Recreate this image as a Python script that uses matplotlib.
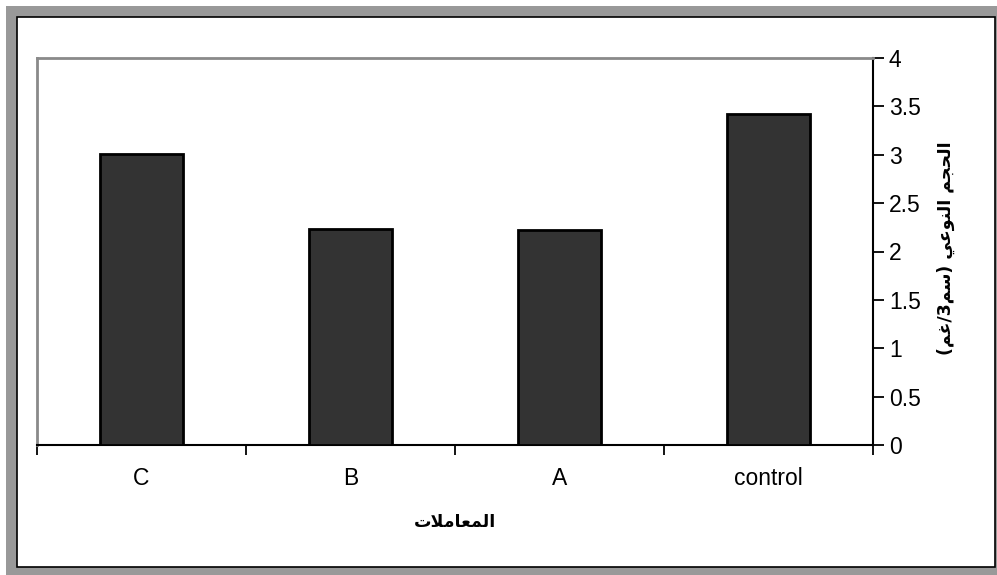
import matplotlib.pyplot as plt
from matplotlib.patches import Rectangle

# treatments, listed left to right as they appear on the axis
categories = ["C", "B", "A", "control"]
values = [3.01, 2.23, 2.22, 3.42]

y_ticks = [0, 0.5, 1, 1.5, 2, 2.5, 3, 3.5, 4]
y_tick_labels = ["0", "0.5", "1", "1.5", "2", "2.5", "3", "3.5", "4"]

# Arabic titles, written with presentation forms in display order
x_title = "\uFE95\uFEFC\uFEE3\uFE8E\uFECC\uFEE4\uFEDF\uFE8D"  # المعاملات
y_title = ("(\uFEE2\uFECF/3\uFEE2\uFEB3) "
           "\uFEF2\uFECB\uFEEE\uFEE8\uFEDF\uFE8D "
           "\uFEE2\uFEA0\uFEA4\uFEDF\uFE8D")  # الحجم النوعي (سم3/غم)

W, H = 997, 575
fig = plt.figure(figsize=(W / 100, H / 100), dpi=100)
fig.patch.set_facecolor("white")

# gray outer frame with a thin dark inner edge
fig.patches.append(Rectangle((6 / W, -0.1), 1.2, 1.1 - 6 / H,
                             transform=fig.transFigure, facecolor="#999999",
                             edgecolor="none", zorder=-3))
fig.patches.append(Rectangle((16.5 / W, (H - 566.5) / H),
                             (994.5 - 16.5) / W, (566.5 - 16.5) / H,
                             transform=fig.transFigure, facecolor="white",
                             edgecolor="black", linewidth=1.2, zorder=-2))

ax = fig.add_axes([37 / W, 1 - 445 / H, (873 - 37) / W, (445 - 58) / H])
ax.set_facecolor("none")

x = [i + 0.5 for i in range(len(categories))]
ax.bar(x, values, width=0.4, color="#333333", edgecolor="black",
       linewidth=2, zorder=3)

ax.set_xlim(0, len(categories))
ax.set_ylim(0, 4)

# category labels centered, tick marks on the boundaries
ax.set_xticks(x)
ax.set_xticklabels(categories, fontsize=16.5, family="Liberation Sans")
ax.tick_params(axis="x", which="major", length=0, pad=16)
ax.set_xticks(range(len(categories) + 1), minor=True)
ax.tick_params(axis="x", which="minor", length=7, width=1.3,
               direction="out", color="black")

ax.yaxis.tick_right()
ax.set_yticks(y_ticks)
ax.set_yticklabels(y_tick_labels, fontsize=16.5, family="Liberation Sans")
ax.tick_params(axis="y", length=8, width=1.3, direction="out",
               color="black", pad=3.5)

for side in ["left", "top"]:
    ax.spines[side].set_color("#8a8a8a")
    ax.spines[side].set_linewidth(2)
for side in ["right", "bottom"]:
    ax.spines[side].set_color("black")
    ax.spines[side].set_linewidth(1.5)

fig.text(455 / W, 1 - 522 / H, x_title, fontsize=12.5, fontweight="bold",
         family="DejaVu Sans", ha="center", va="center")
fig.text(946 / W, 1 - 248 / H, y_title, fontsize=12.5, fontweight="bold",
         family="DejaVu Sans", ha="center", va="center", rotation=90)

fig.savefig("out.png", dpi=100)
